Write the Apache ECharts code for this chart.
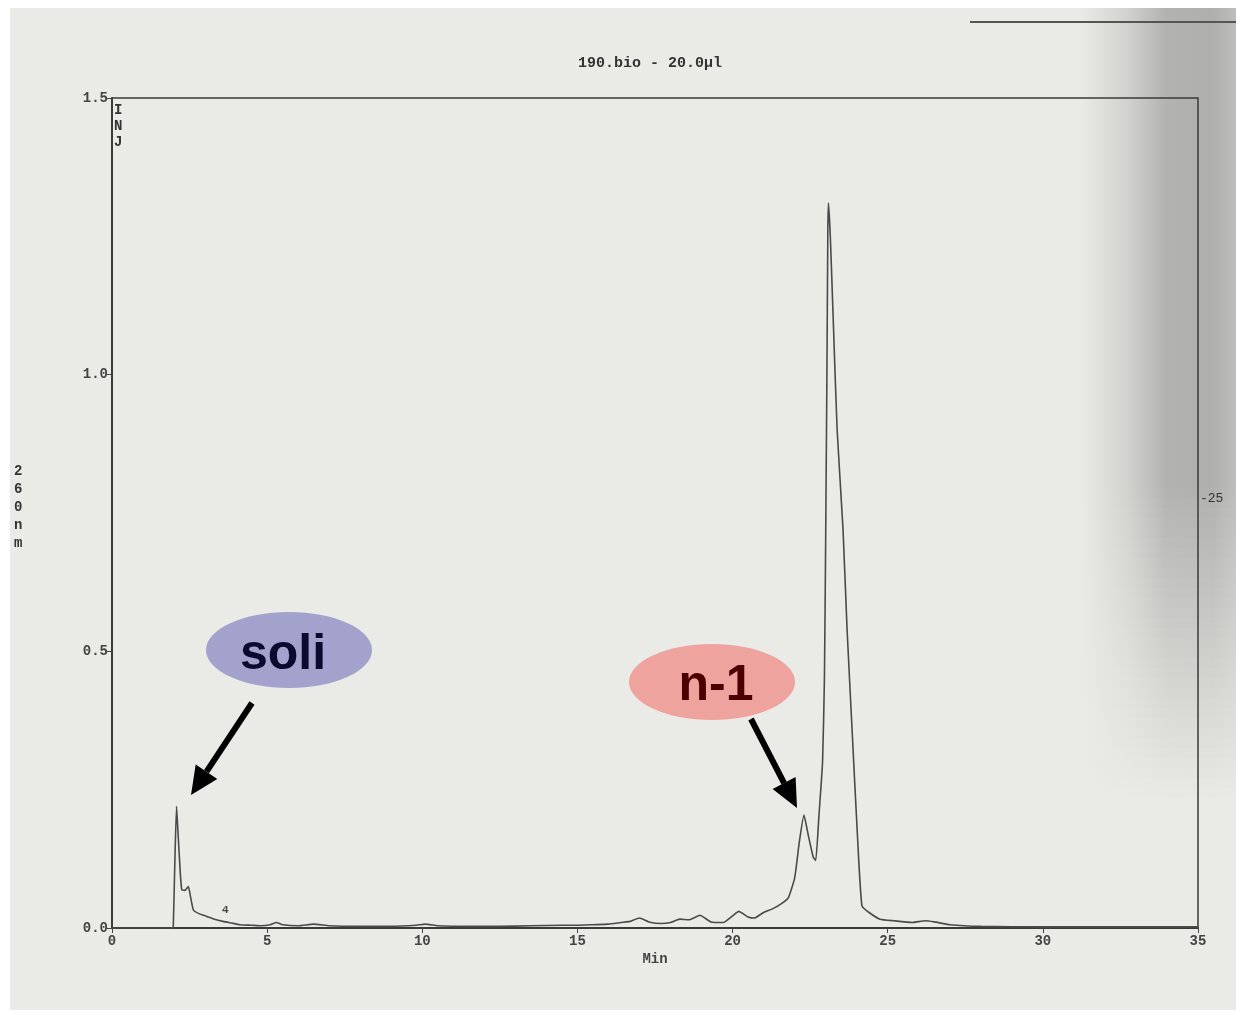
<!DOCTYPE html>
<html><head><meta charset="utf-8">
<script src="https://cdn.jsdelivr.net/npm/echarts@6/dist/echarts.min.js"></script>
<style>html,body{margin:0;padding:0;background:#fff}#c{width:1236px;height:1016px}</style>
</head><body><div id="c"></div>
<script>
const timeMin = [0,1.0,1.95,1.975,2.03,2.08,2.13,2.2,2.25,2.35,2.46,2.52,2.62,2.8,3.05,3.3,3.58,3.85,4.12,4.5,4.8,5.1,5.3,5.5,6.0,6.5,7.0,8.0,9.0,9.8,10.1,10.5,11.5,12.5,13.5,14.5,15.0,15.5,16.0,16.4,16.7,17.0,17.3,17.7,18.0,18.3,18.6,18.95,19.3,19.7,20.0,20.2,20.5,20.7,21.0,21.3,21.6,21.8,22.0,22.15,22.3,22.45,22.6,22.68,22.78,22.9,22.96,23.0,23.04,23.07,23.09,23.15,23.25,23.37,23.56,23.69,23.85,24.04,24.17,24.4,24.75,25.2,25.8,26.2,26.5,27.0,28.0,30.0,35.0];
const absorbance = [0,0,0,0.002,0.13,0.22,0.17,0.1,0.069,0.068,0.075,0.06,0.033,0.026,0.021,0.016,0.012,0.009,0.006,0.005,0.004,0.006,0.01,0.006,0.004,0.007,0.004,0.003,0.003,0.005,0.007,0.004,0.003,0.003,0.004,0.005,0.005,0.006,0.007,0.01,0.012,0.018,0.011,0.008,0.01,0.016,0.015,0.023,0.011,0.01,0.022,0.03,0.02,0.018,0.028,0.035,0.045,0.055,0.09,0.155,0.204,0.165,0.128,0.122,0.2,0.3,0.45,0.7,1.0,1.26,1.31,1.25,1.09,0.9,0.72,0.54,0.36,0.15,0.04,0.028,0.016,0.013,0.01,0.013,0.011,0.006,0.003,0.002,0.002];
const xTicks = [0,5,10,15,20,25,30,35];
const yTicks = [0,0.5,1.0,1.5];
const titleText = '190.bio - 20.0µl';

const data = timeMin.map((t,i)=>[t, absorbance[i]]);
const mono = '"Liberation Mono","DejaVu Sans Mono",monospace';
const chart = echarts.init(document.getElementById('c'), null, {renderer:'canvas'});

// scan smudge decoration on right edge (smooth vertical fade, non-overlapping bands)
const smudge = [];
const nb = 80, bh = 10;
for (let i = 0; i < nb; i++) {
  const yy = 8 + i * bh;
  const o = yy < 480 ? 1 : Math.max(0, 1 - (yy - 480) / 320);
  smudge.push({type:'rect',z:-9,silent:true,shape:{x:1080,y:yy,width:156,height:bh},
    style:{opacity:o,fill:new echarts.graphic.LinearGradient(0,0,1,0,[
      {offset:0,color:'rgba(60,60,60,0)'},{offset:0.3,color:'rgba(60,60,60,0.14)'},
      {offset:0.55,color:'rgba(50,50,50,0.3)'},{offset:0.85,color:'rgba(50,50,50,0.32)'},{offset:1,color:'rgba(60,60,60,0.26)'}])}});
}

chart.setOption({
  backgroundColor:'#ffffff',
  animation:false,
  title:{text:titleText,left:645,top:51,textAlign:'center',textStyle:{fontFamily:mono,fontSize:15,fontWeight:'bold',color:'#333'}},
  grid:{left:112,right:38,top:98,bottom:88,show:true,borderColor:'#3a3a3a',borderWidth:1.5,backgroundColor:'transparent'},
  xAxis:{type:'value',min:0,max:35,interval:5,
    name:'Min',nameLocation:'middle',nameGap:24,nameTextStyle:{fontFamily:mono,fontSize:14,fontWeight:'bold',color:'#444'},
    axisLine:{show:true,lineStyle:{color:'#3a3a3a',width:2}},
    axisTick:{show:true,length:5,lineStyle:{color:'#444'}},
    axisLabel:{fontFamily:mono,fontSize:14,fontWeight:'bold',color:'#444',margin:6,formatter:v=>String(v)},
    splitLine:{show:false}},
  yAxis:{type:'value',min:0,max:1.5,interval:0.5,
    axisLine:{show:true,lineStyle:{color:'#3a3a3a',width:2}},
    axisTick:{show:true,length:5,lineStyle:{color:'#444'}},
    axisLabel:{fontFamily:mono,fontSize:14,fontWeight:'bold',color:'#444',margin:4,formatter:v=>v.toFixed(1)},
    splitLine:{show:false}},
  series:[{type:'line',data:data,showSymbol:false,smooth:0.15,lineStyle:{color:'#4a4a4a',width:1.6},z:3}],
  graphic:[
    {type:'rect',z:-10,silent:true,shape:{x:10,y:8,width:1226,height:1002},style:{fill:'#eaebe7'}}
  ].concat(smudge).concat([
    {type:'line',z:-8,silent:true,shape:{x1:970,y1:22,x2:1236,y2:22},style:{stroke:'#555',lineWidth:2}},
    {type:'text',left:114,top:102,style:{text:'I\nN\nJ',font:'bold 14px '+mono,fill:'#333',lineHeight:16}},
    {type:'text',left:14,top:462,style:{text:'2\n6\n0\nn\nm',font:'bold 14px '+mono,fill:'#333',lineHeight:18}},
    {type:'text',left:1200,top:492,style:{text:'-25',font:'13px '+mono,fill:'#333'}},
    {type:'text',left:222,top:905,style:{text:'4',font:'bold 11px '+mono,fill:'#444'}},
    {type:'ellipse',shape:{cx:289,cy:650,rx:83,ry:38},style:{fill:'#a3a2cc'}},
    {type:'text',x:283,y:655,style:{text:'soli',font:'bold 50px "Liberation Sans",Arial,sans-serif',fill:'#0a0a2e',align:'center',verticalAlign:'middle'}},
    {type:'ellipse',shape:{cx:712,cy:682,rx:83,ry:38},style:{fill:'#eea39e'}},
    {type:'text',x:716,y:686,style:{text:'n-1',font:'bold 50px "Liberation Sans",Arial,sans-serif',fill:'#4a0000',align:'center',verticalAlign:'middle'}},
    {type:'line',shape:{x1:252,y1:703,x2:206.5,y2:771.7},style:{stroke:'#000',lineWidth:6}},
    {type:'polygon',shape:{points:[[217.3,778.9],[195.7,764.5],[191,795]]},style:{fill:'#000'}},
    {type:'line',shape:{x1:751,y1:719,x2:784.1,y2:783.1},style:{stroke:'#000',lineWidth:6}},
    {type:'polygon',shape:{points:[[772.6,789.1],[795.6,777.1],[797,808]]},style:{fill:'#000'}}
  ])
});
</script></body></html>
